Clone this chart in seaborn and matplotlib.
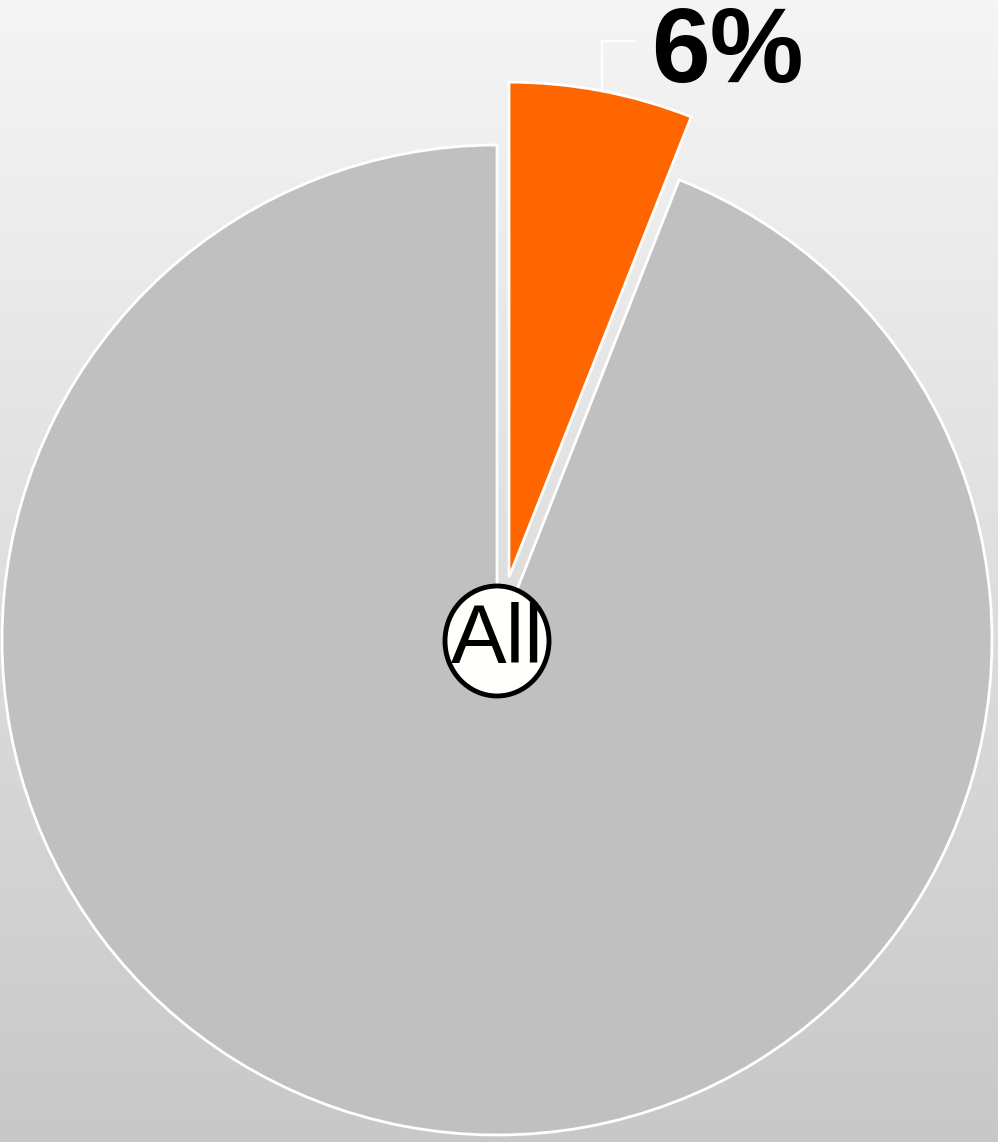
import numpy as np
import seaborn as sns
import matplotlib.pyplot as plt
from matplotlib.patches import Ellipse

# ============================
# Data
# ============================

categories = ["Selected", "Rest"]
shares = [6, 94]
colors = ["#ff6600", "#c0c0c0"]
center_label = "All"

W, H = 998, 1142

sns.set_style("white")
plt.rcParams["font.family"] = ["Liberation Sans", "DejaVu Sans"]

fig = plt.figure(figsize=(W / 100, H / 100), dpi=100)
ax = fig.add_axes([0, 0, 1, 1])

# background gradient
grad = np.linspace(0, 1, 256).reshape(-1, 1)
top = np.array([245, 245, 245]) / 255
bottom = np.array([200, 200, 200]) / 255
img = top + (bottom - top) * grad[..., None]
ax.imshow(img, extent=[0, W, 0, H], aspect="auto", origin="upper", zorder=0)

# ============================
# Pie
# ============================

cx, cy = 497, H - 640
radius = 495
explode_dist = 64

wedges, _ = ax.pie(
    shares,
    colors=colors,
    startangle=90,
    counterclock=False,
    center=(cx, cy),
    radius=radius,
    explode=[explode_dist, 0],
    wedgeprops={"edgecolor": "white", "linewidth": 2},
    frame=True,
)
ax.set_xlim(0, W)
ax.set_ylim(0, H)
ax.set_aspect("equal")
ax.axis("off")

# leader line + label for the highlighted slice
theta = np.deg2rad(90 - 0.5 * shares[0] / sum(shares) * 360)
ex = cx + explode_dist * np.cos(theta)
ey = cy + explode_dist * np.sin(theta)
px = ex + radius * np.cos(theta)
py = ey + radius * np.sin(theta)
ax.plot([px, px, px + 33], [py, py + 50, py + 50], color="white", lw=1.5, zorder=3)
ax.text(px + 49, py + 9, f"{shares[0]}%", fontsize=76, fontweight="bold",
        ha="left", va="baseline", color="black", zorder=4)

# center badge
ax.add_patch(Ellipse((cx, H - 641), 104, 110, facecolor="#fffffb",
                     edgecolor="black", linewidth=3.5, zorder=5))
ax.text(cx, H - 641, center_label, fontsize=60, ha="center", va="center",
        color="black", zorder=6)

fig.savefig("out.png", dpi=100)
